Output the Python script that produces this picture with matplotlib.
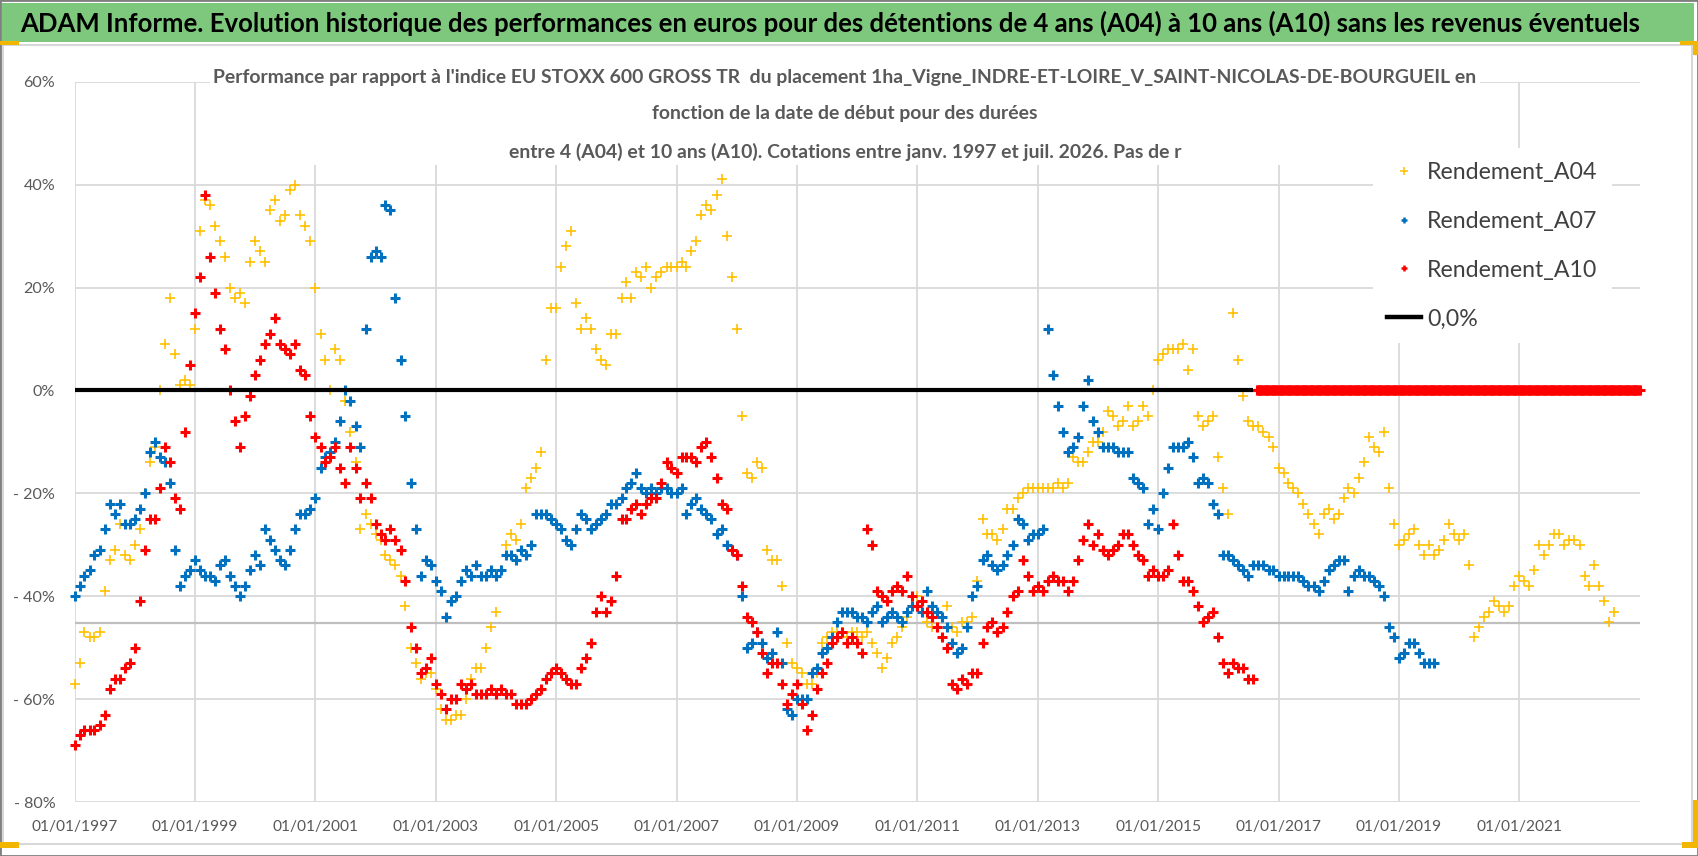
import numpy as np
import pandas as pd
import matplotlib
matplotlib.use("Agg")
import matplotlib.pyplot as plt
import matplotlib.dates as mdates
from matplotlib.lines import Line2D
from matplotlib.patches import Rectangle
from matplotlib.ticker import FuncFormatter
from matplotlib.font_manager import FontProperties

banner_title = ("ADAM Informe. Evolution historique des performances en euros pour des "
                "détentions de 4 ans (A04) à 10 ans (A10) sans les revenus éventuels")
chart_title = ("Performance par rapport à l'indice EU STOXX 600 GROSS TR  du placement "
               "1ha_Vigne_INDRE-ET-LOIRE_V_SAINT-NICOLAS-DE-BOURGUEIL en\n"
               "fonction de la date de début pour des durées\n"
               "entre 4 (A04) et 10 ans (A10). Cotations entre janv. 1997 et juil. 2026. Pas de r")

# monthly values (%), first point = 01/01/1997
series_start = "1997-01-01"
a04 = [
    -57, -53, -47, -48, -48, -47, -39, -33, -31, -26, -32, -33,
    -30, -27, -20, -14, -11, 0, 9, 18, 7, 1, 2, 1,
    12, 31, 37, 36, 32, 29, 26, 20, 18, 19, 17, 25,
    29, 27, 25, 35, 37, 33, 34, 39, 40, 34, 32, 29,
    20, 11, 6, 0, 8, 6, -2, -8, -14, -27, -24, -26,
    -28, -29, -32, -33, -34, -36, -42, -50, -53, -56, -55, -55,
    -58, -62, -64, -64, -63, -63, -60, -56, -54, -54, -50, -46,
    -43, -35, -30, -28, -29, -26, -19, -17, -15, -12, 6, 16,
    16, 24, 28, 31, 17, 12, 14, 12, 8, 6, 5, 11,
    11, 18, 21, 18, 23, 22, 24, 20, 22, 23, 24, 24,
    24, 25, 24, 27, 29, 34, 36, 35, 38, 41, 30, 22,
    12, -5, -16, -17, -14, -15, -31, -33, -33, -38, -49, -53,
    -54, -55, -57, -57, -55, -49, -48, -47, -47, -47, -48, -47,
    -47, -48, -47, -49, -51, -54, -52, -49, -48, -46, -44, -42,
    -40, -41, -45, -46, -46, -44, -42, -46, -47, -45, -45, -44,
    -37, -25, -28, -28, -29, -27, -23, -23, -21, -20, -19, -19,
    -19, -19, -19, -19, -18, -19, -18, -13, -14, -14, -12, -10,
    -10, -8, -4, -5, -7, -6, -3, -7, -6, -3, -5, 0,
    6, 7, 8, 8, 8, 9, 4, 8, -5, -7, -6, -5,
    -13, -19, -24, 15, 6, -1, -6, -7, -7, -8, -9, -11,
    -15, -16, -18, -19, -20, -22, -24, -26, -28, -24, -23, -25,
    -24, -21, -19, -20, -17, -14, -9, -11, -12, -8, -19, -26,
    -30, -29, -28, -27, -30, -32, -30, -32, -31, -29, -26, -28,
    -29, -28, -34, -48, -46, -44, -43, -41, -42, -43, -42, -38,
    -36, -37, -38, -35, -30, -32, -30, -28, -28, -30, -29, -29,
    -30, -36, -38, -34, -38, -41, -45, -43,
]
a07 = [
    -40, -38, -36, -35, -32, -31, -27, -22, -24, -22, -26, -26,
    -25, -23, -20, -12, -10, -13, -14, -18, -31, -38, -36, -35,
    -33, -35, -36, -36, -37, -34, -33, -36, -38, -40, -38, -35,
    -32, -34, -27, -29, -31, -33, -34, -31, -27, -24, -24, -23,
    -21, -15, -13, -12, -10, -6, 0, -2, -7, -11, 12, 26,
    27, 26, 36, 35, 18, 6, -5, -18, -27, -36, -33, -34,
    -37, -39, -44, -41, -40, -37, -35, -36, -34, -36, -36, -35,
    -36, -35, -32, -32, -33, -31, -32, -30, -24, -24, -24, -25,
    -26, -27, -29, -30, -27, -24, -25, -27, -26, -25, -24, -22,
    -22, -21, -19, -18, -16, -19, -20, -19, -20, -19, -19, -20,
    -20, -19, -24, -22, -21, -23, -24, -25, -28, -27, -30, -31,
    -32, -40, -50, -49, -47, -49, -52, -51, -47, -53, -62, -63,
    -60, -60, -60, -55, -54, -51, -50, -48, -45, -43, -43, -43,
    -44, -44, -45, -43, -42, -45, -44, -43, -44, -45, -43, -42,
    -42, -43, -39, -42, -43, -44, -46, -49, -51, -50, -46, -40,
    -38, -33, -32, -34, -35, -34, -32, -30, -25, -26, -29, -28,
    -28, -27, 12, 3, -3, -8, -12, -11, -9, -3, 2, -6,
    -8, -11, -11, -11, -12, -12, -12, -17, -18, -19, -26, -23,
    -27, -20, -15, -11, -11, -11, -10, -13, -18, -17, -18, -22,
    -24, -32, -32, -33, -34, -35, -36, -34, -34, -34, -35, -35,
    -36, -36, -36, -36, -36, -37, -38, -38, -39, -37, -35, -34,
    -33, -33, -39, -36, -35, -36, -36, -37, -38, -40, -46, -48,
    -52, -51, -49, -49, -51, -53, -53, -53,
]
a10 = [
    -69, -67, -66, -66, -66, -65, -63, -58, -56, -56, -54, -53,
    -50, -41, -31, -25, -25, -19, -11, -14, -21, -23, -8, 5,
    15, 22, 38, 26, 19, 12, 8, 0, -6, -11, -5, -1,
    3, 6, 9, 11, 14, 9, 8, 7, 9, 4, 3, -5,
    -9, -11, -14, -13, -11, -15, -18, -11, -15, -21, -18, -21,
    -26, -28, -29, -27, -29, -31, -37, -46, -50, -55, -54, -52,
    -57, -59, -62, -60, -60, -57, -58, -57, -59, -59, -59, -58,
    -59, -58, -59, -59, -61, -61, -61, -60, -59, -58, -56, -55,
    -54, -55, -56, -57, -57, -54, -52, -49, -43, -40, -43, -41,
    -36, -25, -25, -23, -22, -24, -22, -21, -21, -18, -14, -15,
    -16, -13, -13, -13, -14, -11, -10, -13, -17, -22, -23, -31,
    -32, -38, -44, -45, -47, -51, -55, -53, -53, -57, -61, -59,
    -57, -61, -66, -63, -58, -55, -53, -49, -48, -47, -49, -48,
    -49, -51, -27, -30, -39, -40, -41, -39, -38, -39, -36, -40,
    -42, -41, -43, -44, -46, -48, -50, -57, -58, -56, -57, -55,
    -55, -49, -46, -45, -47, -46, -43, -40, -39, -33, -36, -39,
    -38, -39, -37, -36, -37, -37, -39, -37, -33, -29, -26, -30,
    -28, -31, -32, -31, -30, -28, -28, -30, -32, -33, -36, -35,
    -36, -36, -35, -26, -32, -37, -37, -39, -42, -45, -44, -43,
    -48, -53, -55, -53, -54, -54, -56, -56,
]
# after its last quotation the A10 column holds 0 (weekly quotes) up to the end
a10_tail_start, a10_tail_end = "2016-08-15", "2023-01-01"

zero_line_dates = ["1997-01-01", "2016-08-01"]
zero_line_values = [0.0, 0.0]
ref_line_level = -45.3

legend_labels = ["Rendement_A04", "Rendement_A07", "Rendement_A10", "0,0%"]
y_ticks = [60, 40, 20, 0, -20, -40, -60, -80]
x_tick_years = list(range(1997, 2022, 2))

W, H = 1698, 856
C_A04, C_A07, C_A10 = "#FFC000", "#0070C0", "#FF0000"
GRID = "#D9D9D9"
TXT = "#595959"
FONT = ["Lato", "DejaVu Sans"]


def fx(px):
    return px / W


def fy(py):
    return 1 - py / H


fig = plt.figure(figsize=(W / 100, H / 100), dpi=100)
fig.patch.set_facecolor("white")
renderer = fig.canvas.get_renderer()


def size_for_width(sample, target_px, weight="normal", start=14.0):
    # font size (pt) giving the sample string the wanted pixel width
    fp = FontProperties(family=FONT, weight=weight, size=start)
    w, h, d = renderer.get_text_width_height_descent(sample, fp, ismath=False)
    return start * target_px / w


# frame, banner and chart area outline
fig.patches.append(Rectangle((0, 0), 1, 1, transform=fig.transFigure, fill=False,
                             edgecolor="#7F7F7F", lw=2))
fig.patches.append(Rectangle((fx(2), fy(42)), fx(1692), 39 / H, transform=fig.transFigure,
                             facecolor="#7DC87D", edgecolor="none"))
fig.patches.append(Rectangle((fx(3), fy(844)), fx(1689), 799 / H, transform=fig.transFigure,
                             fill=False, edgecolor="#D0D0D0", lw=1.2))
# little selection handles in the corners
for (x0, y0, w, h) in [(0, 41, 19, 4), (0, 842, 19, 6), (1680, 41, 18, 4),
                       (1693, 41, 5, 14), (1693, 800, 5, 48), (1682, 842, 16, 6)]:
    fig.patches.append(Rectangle((fx(x0), fy(y0 + h)), w / W, h / H, transform=fig.transFigure,
                                 facecolor="#F2B600", edgecolor="none"))

banner_size = size_for_width(banner_title, 1631, weight="bold")
fig.text(fx(20), fy(23), banner_title, ha="left", va="center", fontsize=banner_size,
         fontweight="bold", color="black", family=FONT)

ax = fig.add_axes([fx(74.7), fy(802), (1640 - 74.7) / W, (802 - 81.7) / H])

d04 = pd.date_range(series_start, periods=len(a04), freq="MS")
d07 = pd.date_range(series_start, periods=len(a07), freq="MS")
d10 = pd.date_range(series_start, periods=len(a10), freq="MS")
d10_tail = pd.date_range(a10_tail_start, a10_tail_end, freq="W")
a10_tail = np.zeros(len(d10_tail))

ax.plot(d04, a04, ls="none", marker="+", ms=7.5, mew=1.2, color=C_A04, clip_on=False, zorder=3)
ax.plot(d07, a07, ls="none", marker="+", ms=6.5, mew=2.2, color=C_A07, clip_on=False, zorder=3)
ax.plot(d10, a10, ls="none", marker="+", ms=6.5, mew=2.2, color=C_A10, clip_on=False, zorder=3)
ax.plot(d10_tail, a10_tail, ls="none", marker="+", ms=6.5, mew=2.2, color=C_A10,
        clip_on=False, zorder=3)
ax.plot(pd.to_datetime(zero_line_dates), zero_line_values, color="black", lw=3,
        solid_capstyle="butt", zorder=4)
ax.axhline(ref_line_level, color="#BFBFBF", lw=1.6, zorder=1)

ax.set_xlim(pd.Timestamp("1997-01-01"), pd.Timestamp("2023-01-03"))
ax.set_ylim(-80, 60)
ax.set_yticks(y_ticks)
ax.yaxis.set_major_formatter(FuncFormatter(
    lambda v, p: f"{v:.0f}%" if v >= 0 else f"- {abs(v):.0f}%"))
ax.set_xticks([pd.Timestamp(f"{y}-01-01") for y in x_tick_years])
ax.xaxis.set_major_formatter(mdates.DateFormatter("%d/%m/%Y"))
ax.grid(True, color=GRID, lw=1.3)
ax.set_axisbelow(True)
for s in ax.spines.values():
    s.set_visible(False)
ax.tick_params(length=0, colors=TXT)
ax.tick_params(axis="y", pad=14)
ax.tick_params(axis="x", pad=13)
xsize = size_for_width("01/01/1997", 86)
ysize = size_for_width("- 60%", 42)
for lab in ax.get_xticklabels():
    lab.set_family(FONT)
    lab.set_fontsize(xsize)
    lab.set_color(TXT)
for lab in ax.get_yticklabels():
    lab.set_family(FONT)
    lab.set_fontsize(ysize)
    lab.set_color(TXT)

first_line = chart_title.split("\n")[0]
tsize = size_for_width(first_line, 1277, weight="bold")
fp_t = FontProperties(family=FONT, weight="bold", size=tsize)
_, lp_h, lp_d = renderer.get_text_width_height_descent("lp", fp_t, ismath=False)
ax.text(fx(845), fy(115), chart_title, transform=fig.transFigure, ha="center", va="center",
        multialignment="center", fontsize=tsize, fontweight="bold", color=TXT,
        family=FONT, linespacing=33 / (lp_h - lp_d), zorder=5, clip_on=False,
        bbox=dict(boxstyle="square,pad=0.2", facecolor="white", edgecolor="none"))

handles = [
    Line2D([], [], ls="none", marker="+", ms=6, mew=1.1, color=C_A04),
    Line2D([], [], ls="none", marker="+", ms=5, mew=1.8, color=C_A07),
    Line2D([], [], ls="none", marker="+", ms=5, mew=1.8, color=C_A10),
    Line2D([], [], color="black", lw=3.2),
]
lsize = size_for_width("Rendement_A04", 170)
lsize_px = lsize * 100 / 72
leg = ax.legend(handles, legend_labels, loc="upper left",
                bbox_to_anchor=(fx(1373), fy(148)), bbox_transform=fig.transFigure,
                frameon=True, facecolor="white", edgecolor="none", framealpha=1,
                fancybox=False, borderaxespad=0, borderpad=0.6,
                labelspacing=50 / lsize_px - 0.96,
                handlelength=1.5, handletextpad=0.25,
                prop={"family": FONT, "size": lsize})
leg.set_zorder(7)
for t in leg.get_texts():
    t.set_color("#404040")

fig.savefig("out.png", dpi=100, facecolor="white")
